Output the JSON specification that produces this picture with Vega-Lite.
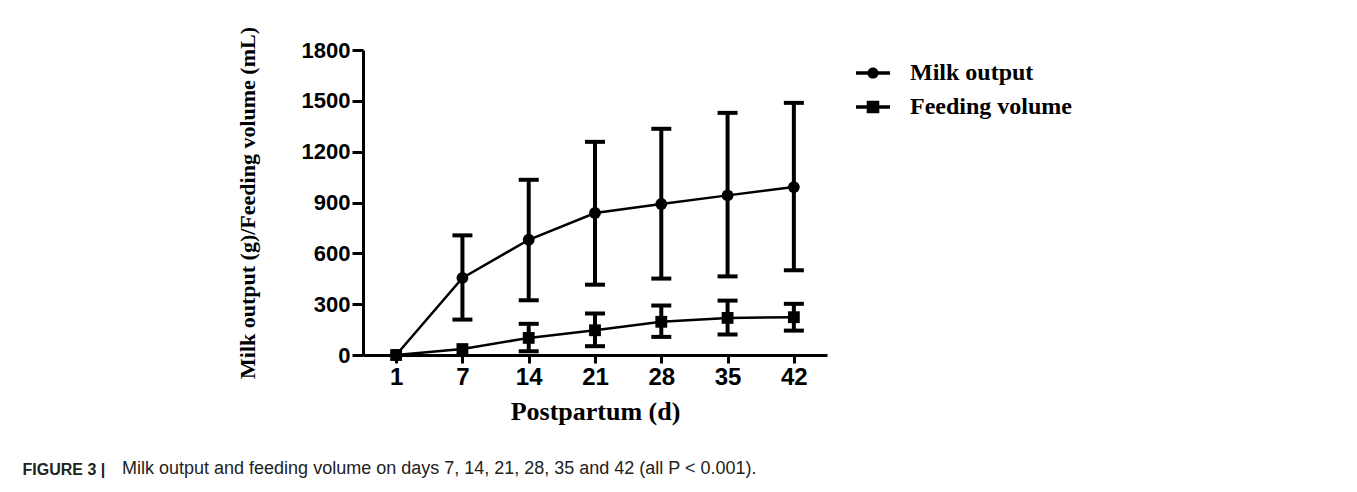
{
  "$schema": "https://vega.github.io/schema/vega-lite/v6.json",
  "width": 464,
  "height": 305,
  "autosize": {"type": "none"},
  "padding": {"left": 363, "top": 50, "right": 530, "bottom": 137},
  "background": "white",
  "config": {
    "view": {"stroke": null},
    "axis": {
      "domainColor": "black",
      "domainWidth": 3,
      "tickColor": "black",
      "tickWidth": 3,
      "grid": false,
      "labelColor": "black",
      "labelFont": "Liberation Sans",
      "labelFontWeight": "bold",
      "titleColor": "black",
      "titleFont": "Liberation Serif",
      "titleFontWeight": "bold"
    }
  },
  "title": {
    "text": "Milk output and feeding volume on days 7, 14, 21, 28, 35 and 42 (all P < 0.001).",
    "orient": "bottom",
    "anchor": "start",
    "frame": "group",
    "baseline": "alphabetic",
    "dx": -241,
    "offset": -3,
    "font": "Liberation Sans",
    "fontSize": 18,
    "fontWeight": "normal",
    "color": "#222222"
  },
  "resolve": {"axis": {"x": "independent"}, "scale": {"shape": "independent"}},
  "data": {
    "values": [
      {"day": "1", "series": "Milk output", "mean": 0, "lo": null, "hi": null},
      {"day": "7", "series": "Milk output", "mean": 455, "lo": 209, "hi": 706},
      {"day": "14", "series": "Milk output", "mean": 680, "lo": 323, "hi": 1034},
      {"day": "21", "series": "Milk output", "mean": 838, "lo": 415, "hi": 1258},
      {"day": "28", "series": "Milk output", "mean": 891, "lo": 451, "hi": 1335},
      {"day": "35", "series": "Milk output", "mean": 942, "lo": 464, "hi": 1429},
      {"day": "42", "series": "Milk output", "mean": 991, "lo": 500, "hi": 1488},
      {"day": "1", "series": "Feeding volume", "mean": 0, "lo": null, "hi": null},
      {"day": "7", "series": "Feeding volume", "mean": 35, "lo": null, "hi": null},
      {"day": "14", "series": "Feeding volume", "mean": 101, "lo": 22, "hi": 184},
      {"day": "21", "series": "Feeding volume", "mean": 146, "lo": 52, "hi": 245},
      {"day": "28", "series": "Feeding volume", "mean": 196, "lo": 107, "hi": 292},
      {"day": "35", "series": "Feeding volume", "mean": 219, "lo": 121, "hi": 321},
      {"day": "42", "series": "Feeding volume", "mean": 223, "lo": 144, "hi": 302}
    ]
  },
  "encoding": {
    "x": {
      "field": "day",
      "type": "ordinal",
      "sort": ["1", "7", "14", "21", "28", "35", "42"],
      "scale": {"type": "point", "padding": 0.5},
      "axis": null
    }
  },
  "layer": [
    {
      "mark": {"type": "line", "color": "black", "strokeWidth": 2.5},
      "encoding": {
        "x": {
          "field": "day",
          "type": "ordinal",
          "sort": ["1", "7", "14", "21", "28", "35", "42"],
          "scale": {"type": "point", "padding": 0.5},
          "axis": {
            "orient": "bottom",
            "title": "Postpartum (d)",
            "titleFontSize": 26,
            "titlePadding": 9,
            "labelAngle": 0,
            "labelFontSize": 24,
            "labelPadding": 2,
            "tickSize": 8
          }
        },
        "y": {
          "field": "mean",
          "type": "quantitative",
          "scale": {"domain": [0, 1800], "nice": false},
          "axis": {
            "title": "Milk output (g)/Feeding volume (mL)",
            "titleFontSize": 22,
            "titlePadding": 42,
            "values": [0, 300, 600, 900, 1200, 1500, 1800],
            "format": "d",
            "labelFontSize": 22,
            "labelPadding": 2,
            "tickSize": 11
          }
        },
        "detail": {"field": "series"}
      }
    },
    {
      "mark": {"type": "rule", "color": "black", "strokeWidth": 4},
      "encoding": {
        "x": {
          "field": "day",
          "type": "ordinal",
          "sort": ["1", "7", "14", "21", "28", "35", "42"],
          "scale": {"type": "point", "padding": 0.5},
          "axis": {
            "orient": "top",
            "domain": false,
            "ticks": false,
            "labels": false,
            "title": "FIGURE 3 |",
            "titleFont": "Liberation Sans",
            "titleFontSize": 16,
            "titleFontWeight": "bold",
            "titleColor": "#222222",
            "titleAngle": 0,
            "titleAlign": "left",
            "titleBaseline": "alphabetic",
            "titleX": -341,
            "titleY": 424
          }
        },
        "y": {"field": "lo", "type": "quantitative"},
        "y2": {"field": "hi"}
      }
    },
    {
      "mark": {"type": "tick", "color": "black", "opacity": 1, "orient": "horizontal", "size": 20, "thickness": 4},
      "encoding": {"y": {"field": "lo", "type": "quantitative"}}
    },
    {
      "mark": {"type": "tick", "color": "black", "opacity": 1, "orient": "horizontal", "size": 20, "thickness": 4},
      "encoding": {"y": {"field": "hi", "type": "quantitative"}}
    },
    {
      "mark": {"type": "point", "filled": true, "color": "black", "opacity": 1, "size": 140},
      "encoding": {
        "y": {"field": "mean", "type": "quantitative"},
        "shape": {
          "field": "series",
          "type": "nominal",
          "scale": {"domain": ["Milk output", "Feeding volume"], "range": ["circle", "square"]},
          "legend": null
        }
      }
    },
    {
      "mark": {"type": "point", "filled": true, "color": "black", "opacity": 0, "size": 140},
      "encoding": {
        "y": {"field": "mean", "type": "quantitative"},
        "shape": {
          "field": "series",
          "type": "nominal",
          "scale": {
            "domain": ["Milk output", "Feeding volume"],
            "range": [
              "M-1,-0.1H-0.3V0.1H-1Z M0.3,-0.1H1V0.1H0.3Z M0.33,0A0.33,0.33 0 1,1 -0.33,0A0.33,0.33 0 1,1 0.33,0Z",
              "M-1,-0.1H-0.36V0.1H-1Z M0.36,-0.1H1V0.1H0.36Z M-0.37,-0.37H0.37V0.37H-0.37Z"
            ]
          },
          "legend": {
            "orient": "none",
            "legendX": 493,
            "legendY": 6,
            "title": null,
            "symbolSize": 1156,
            "symbolOpacity": 1,
            "symbolStrokeWidth": 0,
            "symbolFillColor": "black",
            "labelFont": "Liberation Serif",
            "labelFontWeight": "bold",
            "labelFontSize": 24,
            "labelColor": "black",
            "labelOffset": 20,
            "labelLimit": 400,
            "rowPadding": 5
          }
        }
      }
    }
  ]
}
